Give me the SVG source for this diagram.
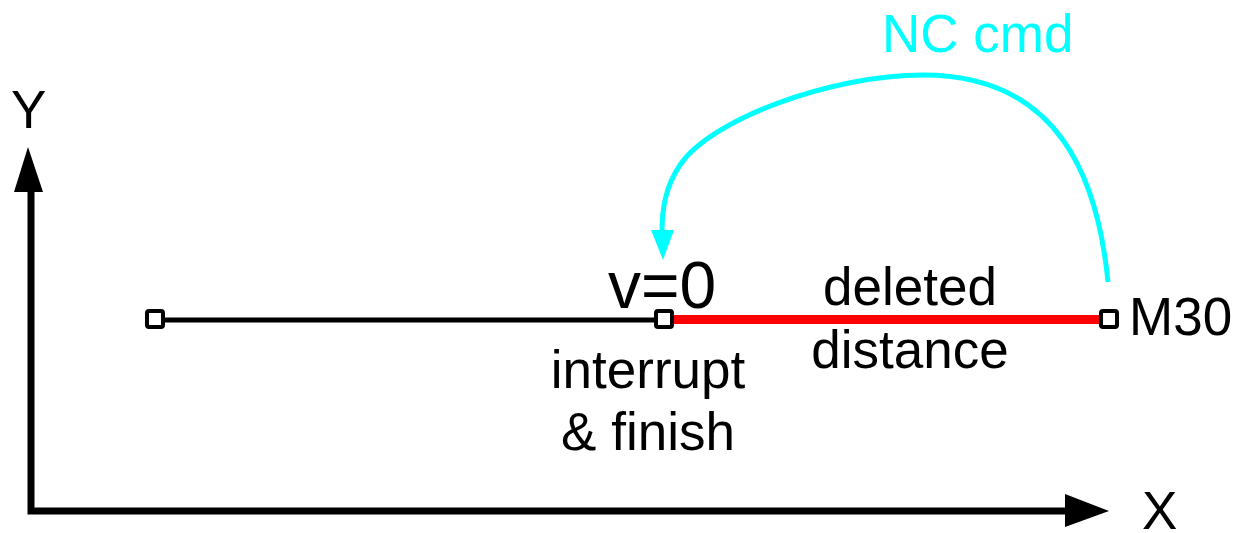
<svg xmlns="http://www.w3.org/2000/svg" width="1243" height="533" viewBox="0 0 1243 533">
<style>
text{font-family:"Liberation Sans",Arial,sans-serif;font-size:53px;fill:#000}
.pt{fill:#fff;stroke:#000;stroke-width:4}
</style>
<rect width="1243" height="533" fill="#fff"/>
<g id="axes">
<polyline points="31,192 31,511 1066,511" fill="none" stroke="#000" stroke-width="7" stroke-linejoin="miter"/>
<polygon points="28,147 14,192 43,192" fill="#000"/>
<polygon points="1109,511 1065,494 1065,527" fill="#000"/>
<text x="11" y="128">Y</text>
<text x="1142" y="529">X</text>
</g>
<g id="connectors">
<line x1="155" y1="320" x2="664" y2="320" stroke="#000" stroke-width="5"/>
<line x1="664" y1="319.5" x2="1109" y2="319.5" stroke="#f00" stroke-width="9"/>
<path d="M1108,282 C1098,180 1060,75 923,75 C830,75 710,120 680,165 C665,187 662,210 662,232" fill="none" stroke="#0ff" stroke-width="5"/>
<polygon points="651,230 674,230 663,260" fill="#0ff"/>
</g>
<g id="start"><rect class="pt" x="147" y="311" width="16" height="16" rx="2"/></g>
<g id="interrupt"><rect class="pt" x="656" y="311" width="16" height="16" rx="2"/>
<text x="608" y="308" style="font-size:66px">v=0</text>
<text x="648" y="388" text-anchor="middle">interrupt</text>
<text x="648" y="450" text-anchor="middle">&amp; finish</text>
</g>
<g id="m30"><rect class="pt" x="1101" y="311" width="16" height="16" rx="2"/>
<text x="1129" y="335">M30</text></g>
<g id="labels">
<text x="910" y="305" text-anchor="middle">deleted</text>
<text x="910" y="368" text-anchor="middle">distance</text>
<text x="882" y="52" style="fill:#0ff">NC cmd</text>
</g>
</svg>
